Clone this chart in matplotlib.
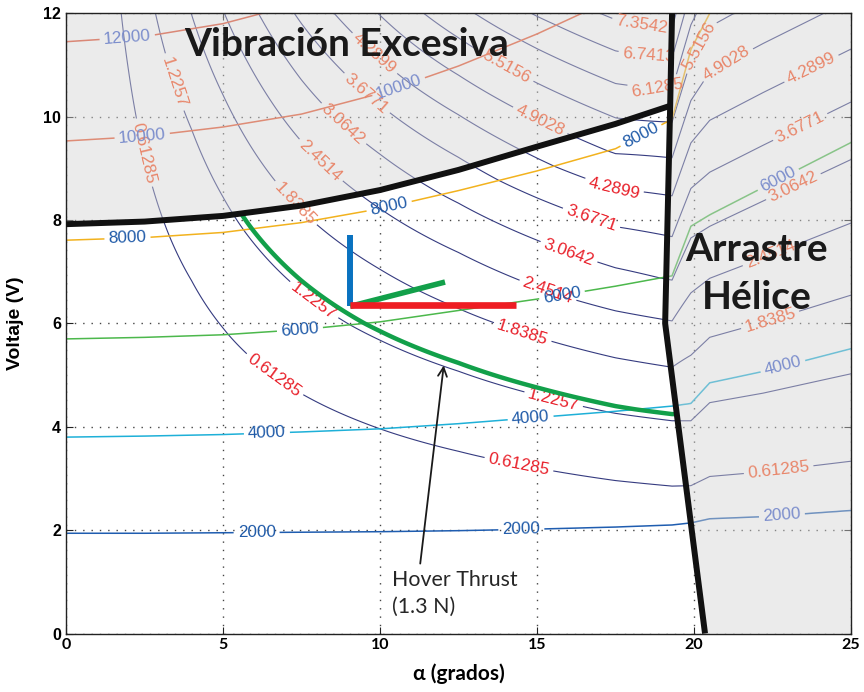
import numpy as np
import matplotlib
matplotlib.use("Agg")
import matplotlib.pyplot as plt
from matplotlib.patches import Polygon
from matplotlib.path import Path

plt.rcParams.update({"font.family": ["Liberation Sans", "DejaVu Sans"], "font.size": 11})

# --- data ----------------------------------------------------------------
# pitch-angle columns (deg) where the rpm crossings were read
alpha_cols = [0, 2.5, 5, 7.5, 10, 12.5, 15, 17.5, 19.3, 19.9, 20.5, 22.2, 25]
rpm_levels = [0, 2000, 4000, 6000, 8000, 10000, 12000, 14000]
# voltage at which each rpm level is reached, per column
v_0 = [0] * 13
v_2000 = [1.94, 1.94, 1.95, 1.96, 1.97, 1.99, 2.02, 2.06, 2.10, 2.14, 2.22, 2.26, 2.38]
v_4000 = [3.80, 3.82, 3.85, 3.90, 3.96, 4.06, 4.18, 4.30, 4.40, 4.45, 4.85, 5.07, 5.51]
v_6000 = [5.70, 5.73, 5.78, 5.88, 6.03, 6.25, 6.47, 6.72, 6.92, 7.88, 8.10, 8.63, 9.50]
v_8000 = [7.61, 7.66, 7.76, 7.95, 8.22, 8.57, 8.95, 9.38, 9.95, 11.3, 12.0, 12.6, 13.5]
v_10000 = [9.53, 9.62, 9.80, 10.05, 10.45, 10.98, 11.6, 12.3, 12.9, 14.5, 15.5, 16.5, 17.5]
v_12000 = [11.45, 11.55, 11.80, 12.2, 12.75, 13.4, 14.2, 15.1, 15.9, 17.5, 18.5, 19.5, 21.0]
v_14000 = [13.4, 13.5, 13.8, 14.4, 15.0, 15.8, 16.8, 17.9, 18.9, 20.7, 21.5, 22.5, 24.5]

# thrust coefficient (N per krpm^2) vs pitch angle
ct_alpha = [0, 1, 2, 3, 4, 5, 7.5, 10, 12.5, 15, 17.5, 19.3, 19.9, 25]
ct_value = [0.0, 0.0012, 0.0048, 0.0085, 0.0122, 0.0163, 0.0272, 0.0383, 0.0505,
            0.0640, 0.0780, 0.0870, 0.0890, 0.0900]

thrust_levels = [0.61285, 1.2257, 1.8385, 2.4514, 3.0642, 3.6771, 4.2899,
                 4.9028, 5.5156, 6.1285, 6.7413, 7.3542]
rpm_contours = [2000, 4000, 6000, 8000, 10000, 12000]
hover_thrust = 1.3

# limits of the usable zone
bound_alpha = [0, 2.5, 5, 7.5, 10, 12.5, 15, 17.5, 19.24]
bound_v = [7.92, 7.97, 8.08, 8.28, 8.58, 8.97, 9.42, 9.86, 10.21]
drag_alpha = [19.3, 19.24, 19.08, 20.35]
drag_v = [12.0, 10.21, 6.0, 0.0]

# --- fields ---------------------------------------------------------------
v_rows = np.array([v_0, v_2000, v_4000, v_6000, v_8000, v_10000, v_12000, v_14000])
a_grid = np.linspace(0, 25, 501)
v_grid = np.linspace(0, 12, 601)
rpm = np.empty((len(v_grid), len(a_grid)))
for j, a in enumerate(a_grid):
    cross = [np.interp(a, alpha_cols, row) for row in v_rows]
    rpm[:, j] = np.interp(v_grid, cross, rpm_levels)
ct = np.interp(a_grid, ct_alpha, ct_value)
thrust = ct[None, :] * (rpm / 1000.0) ** 2
A, V = np.meshgrid(a_grid, v_grid)

# --- figure ---------------------------------------------------------------
fig = plt.figure(figsize=(8.64, 6.92), dpi=100)
ax = fig.add_axes([0.0764, 0.0845, 0.9086, 0.8963])
ax.set_xlim(0, 25); ax.set_ylim(0, 12)

white_xy = [(0, 0)] + list(zip(bound_alpha, bound_v)) + [(19.08, 6.0), (20.35, 0)]
shade_xy = [(0, 12)] + list(zip(bound_alpha, bound_v)) + [(19.08, 6.0), (20.35, 0), (25, 0), (25, 12)]
white_path = Path(white_xy)

# one contour set per level so each label lands on its own line
cs_t = {lev: ax.contour(A, V, thrust, levels=[lev], colors="#353b80", linewidths=0.8, zorder=2)
        for lev in thrust_levels}
rpm_cols = ["#1f5db0", "#1eb0d8", "#4cb84c", "#f2b21e", "#e8522a", "#e04a2a"]
cs_r = {lev: ax.contour(A, V, rpm, levels=[lev], colors=c, linewidths=1.1, zorder=2)
        for lev, c in zip(rpm_contours, rpm_cols)}

ax.add_patch(Polygon(shade_xy, closed=True, facecolor="#d3d3d3", edgecolor="none",
                     alpha=0.45, zorder=2.5))

thrust_labels = [
    (0.61285, 6.6, 4.97), (0.61285, 14.4, 3.2), (0.61285, 2.46, 9.3), (0.61285, 22.7, 3.14),
    (1.2257, 7.87, 6.43), (1.2257, 15.5, 4.46), (1.2257, 3.4, 10.66),
    (1.8385, 14.5, 5.75), (1.8385, 7.2, 8.26), (1.8385, 22.4, 6.11),
    (2.4514, 15.3, 6.56), (2.4514, 7.87, 9.0), (2.4514, 22.4, 7.4),
    (3.0642, 15.95, 7.27), (3.0642, 8.6, 9.7), (3.0642, 23.2, 8.6),
    (3.6771, 16.7, 7.98), (3.6771, 9.36, 10.3), (3.6771, 23.3, 9.9),
    (4.2899, 17.4, 8.53), (4.2899, 9.5, 11.0), (4.2899, 23.6, 11.1),
    (4.9028, 15.0, 9.8), (4.9028, 21.15, 10.9),
    (5.5156, 13.8, 10.7), (5.5156, 20.35, 11.3),
    (6.1285, 18.8, 10.27), (6.7413, 18.5, 10.92), (7.3542, 18.3, 11.65),
]
rpm_labels = [
    (2000, 6.07, 1.94), (2000, 14.5, 2.03), (2000, 22.8, 2.28),
    (4000, 6.4, 3.85), (4000, 14.8, 4.14), (4000, 22.8, 5.24),
    (6000, 7.45, 5.88), (6000, 15.8, 6.53), (6000, 22.7, 8.76),
    (8000, 1.96, 7.61), (8000, 10.3, 8.24), (8000, 18.4, 9.53),
    (10000, 2.43, 9.6), (10000, 10.6, 10.57), (12000, 1.96, 11.45),
]

def put_labels(sets, items, col_in, col_out):
    for lev, x, y in items:
        txt = sets[lev].clabel(manual=[(x, y)], inline=True, inline_spacing=4,
                               fmt="%g", fontsize=12.3)[-1]
        txt.set_color(col_in if white_path.contains_point((x, y)) else col_out)
        txt.set_zorder(4)

put_labels(cs_t, thrust_labels, "#e8202a", "#e8866a")
put_labels(cs_r, rpm_labels, "#1f5aa8", "#7b8dcc")

# hover thrust curve, only inside the usable zone
clip = Polygon(white_xy, closed=True, transform=ax.transData)
cs_h = ax.contour(A, V, thrust, levels=[hover_thrust], colors="#12a04a", linewidths=3.2, zorder=5)
cs_h.set_clip_path(clip)

# zone limits
ax.plot(bound_alpha, bound_v, color="#111111", lw=4.3, zorder=6, solid_capstyle="butt")
ax.plot(drag_alpha, drag_v, color="#111111", lw=4.3, zorder=6, solid_capstyle="butt")

# body axes glyph
ax.plot([9.03, 9.03], [6.33, 7.72], color="#0a72c0", lw=4.3, zorder=5, solid_capstyle="butt")
ax.plot([9.05, 12.07], [6.33, 6.80], color="#12a04a", lw=4.0, zorder=5, solid_capstyle="butt")
ax.plot([9.03, 14.33], [6.35, 6.35], color="#ee1d23", lw=4.8, zorder=5, solid_capstyle="butt")

# annotations
ax.text(8.93, 11.18, "Vibración Excesiva", fontsize=28, fontweight="bold", family="Lato",
        color="#1a1a1a", ha="center", va="baseline", zorder=7)
ax.text(22.0, 7.2, "Arrastre", fontsize=28, fontweight="bold", family="Lato",
        color="#1a1a1a", ha="center", va="baseline", zorder=7)
ax.text(22.0, 6.27, "Hélice", fontsize=28, fontweight="bold", family="Lato",
        color="#1a1a1a", ha="center", va="baseline", zorder=7)
ax.text(10.37, 0.91, "Hover Thrust", fontsize=15.4, family="Lato", color="#262626",
        ha="left", va="baseline", zorder=7)
ax.text(10.37, 0.40, "(1.3 N)", fontsize=15.4, family="Lato", color="#262626",
        ha="left", va="baseline", zorder=7)
ax.annotate("", xy=(12.04, 5.24), xytext=(11.27, 1.30),
            arrowprops=dict(arrowstyle="->", lw=1.3, color="#1a1a1a", mutation_scale=16),
            zorder=7)

# axes styling
ax.set_xticks([0, 5, 10, 15, 20, 25])
ax.set_yticks([0, 2, 4, 6, 8, 10, 12])
ax.grid(True, linestyle=(0, (1, 5)), color="#444444", lw=1.0)
ax.tick_params(direction="in", length=5, top=True, right=True, color="#222222")
for lab in ax.get_xticklabels():
    lab.set_fontfamily(["Lato", "DejaVu Sans"]); lab.set_fontweight("bold"); lab.set_fontsize(11.5)
for lab in ax.get_yticklabels():
    lab.set_fontweight("bold"); lab.set_fontsize(11.5)
ax.set_xlabel("α (grados)", family=["Lato", "DejaVu Sans"], fontweight="bold", fontsize=15, labelpad=8)
ax.set_ylabel("Voltaje (V)", fontweight="bold", fontsize=14, labelpad=14)
for s in ax.spines.values():
    s.set_color("#222222"); s.set_linewidth(1.0)

fig.savefig("out.png", dpi=100)
